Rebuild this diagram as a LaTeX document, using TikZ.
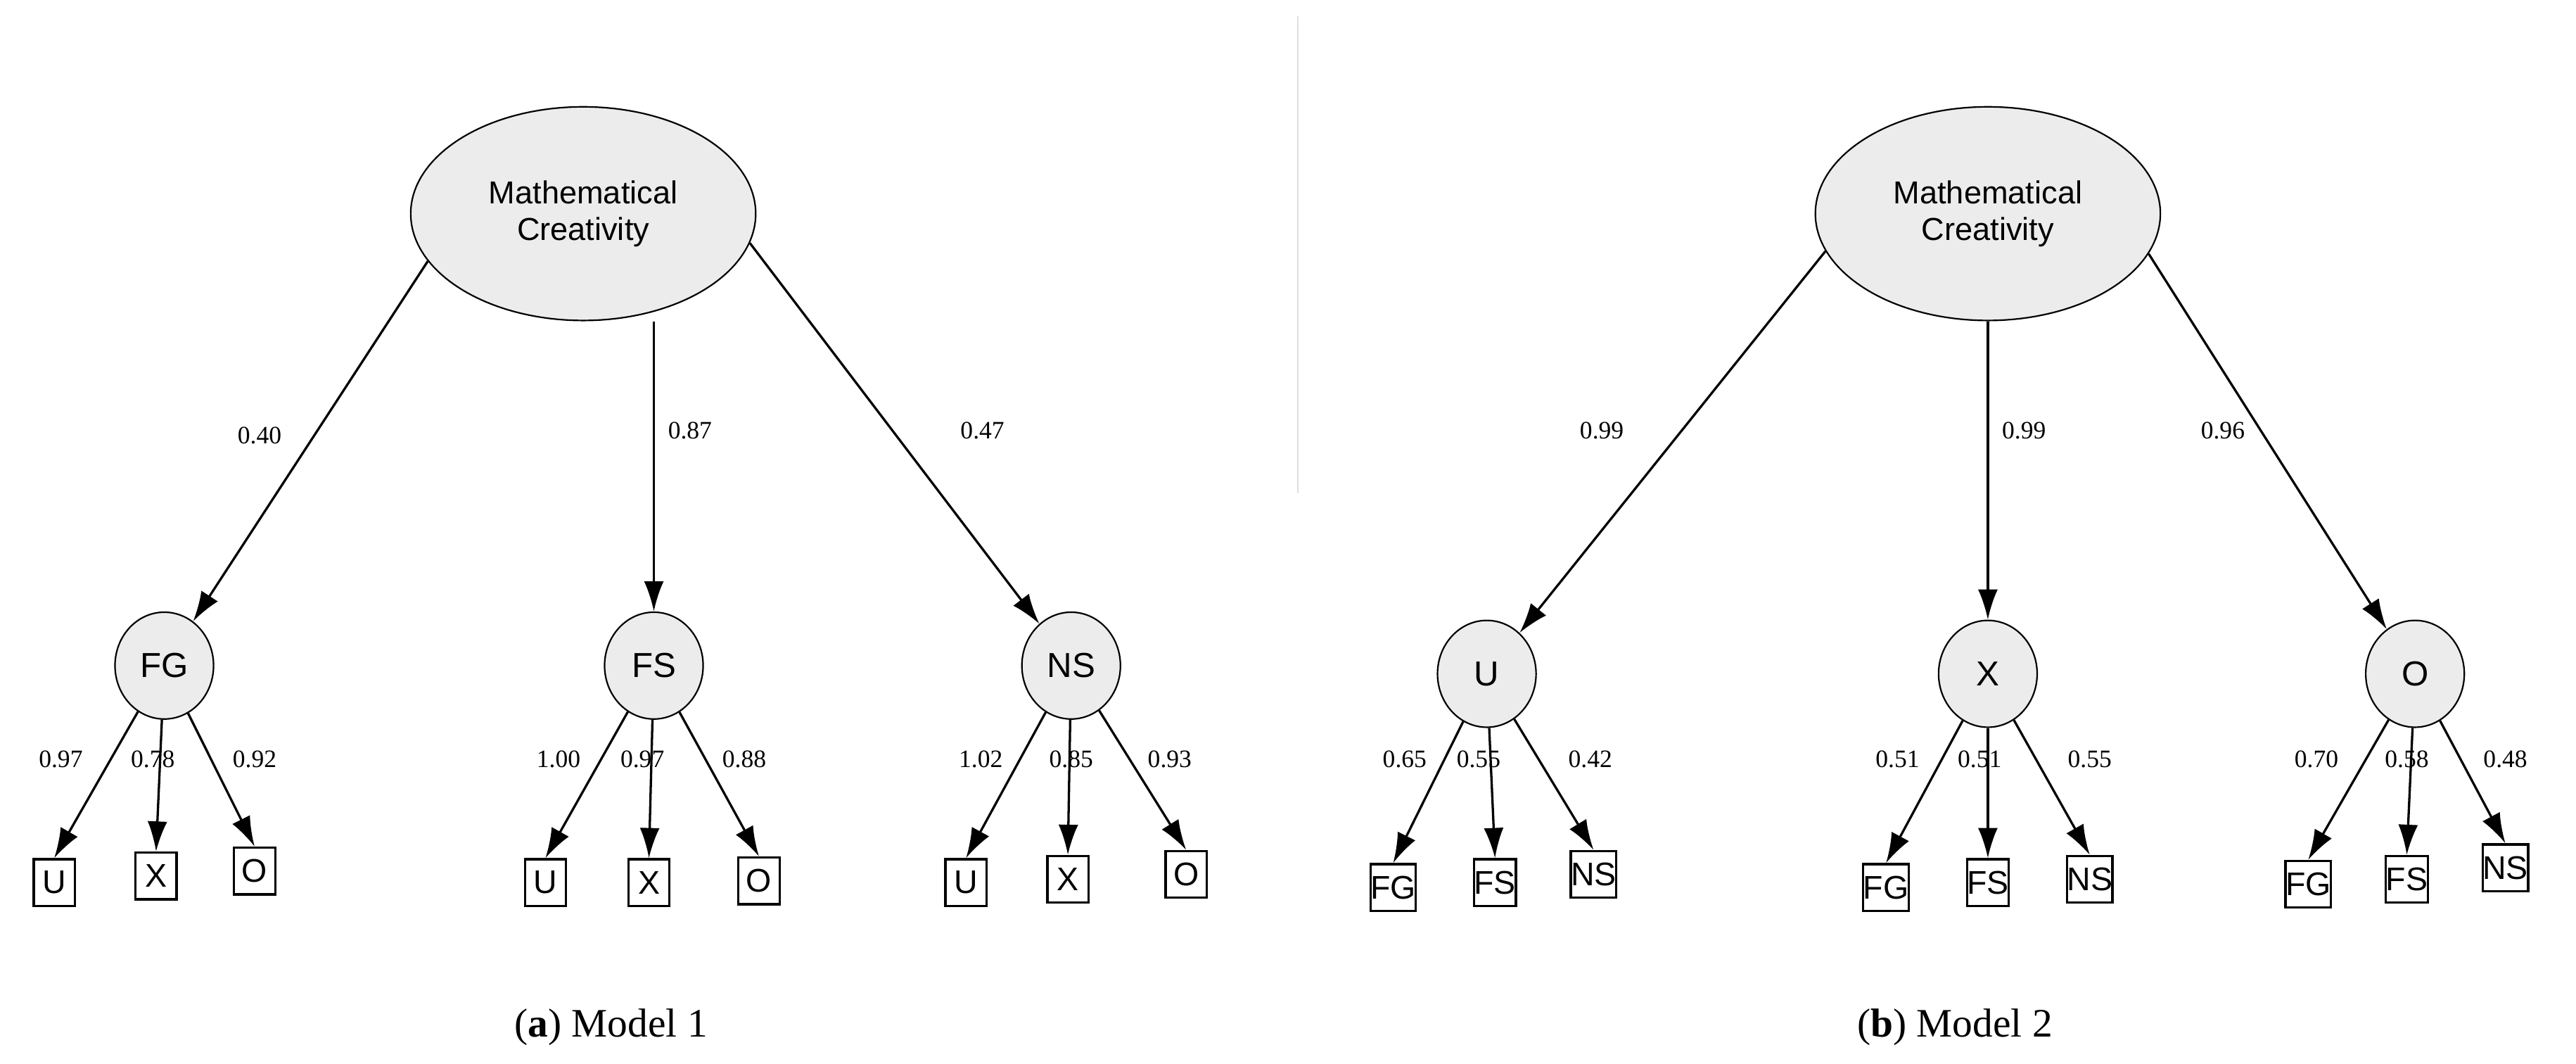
\documentclass[tikz,border=0pt]{standalone}
\usepackage{fontspec}
\setmainfont{Liberation Serif}
\newfontfamily\diagfont{Liberation Sans}
\usetikzlibrary{arrows.meta,shapes.geometric}
\tikzset{
	latent/.style={ellipse,draw,thick,fill=gray!15,font=\diagfont\fontsize{16.5}{19}\selectfont,align=center,inner sep=0pt},
	factor/.style={ellipse,draw,thick,fill=gray!15,minimum width=18mm,minimum height=19.5mm,inner sep=0pt,font=\diagfont\fontsize{18}{20}\selectfont},
	item/.style={rectangle,draw,very thick,minimum width=7.5mm,minimum height=8.5mm,inner sep=0pt,font=\diagfont\fontsize{17}{19}\selectfont},
	load/.style={font=\fontsize{13}{15}\selectfont},
	link/.style={very thick,-{Latex[length=5.5mm,width=3.6mm]}},
	caption/.style={font=\fontsize{21}{24}\selectfont}
}
\begin{document}
\begin{tikzpicture}[x=0.3mm,y=-0.3mm]
	\useasboundingbox (0,0) rectangle (1568,647);
	\draw[gray!25] (790,10)--(790,300);
	
	% Model 1
	\node[latent,minimum width=63mm,minimum height=39mm] (mcA) at (355,130) {Mathematical\\Creativity};
	\node[factor] (fgA) at (100,405) {FG};
	\node[factor] (fsA) at (398,405) {FS};
	\node[factor] (nsA) at (652,405) {NS};
	
	\draw[link] (mcA.197) -- (fgA);
	\draw[link] (fsA |- mcA.south) -- (fsA);
	\draw[link] (mcA.350) -- (nsA);
	\node[load] (lfgA) at (158,265) {0.40};
	\node[load] (lfsA) at (420,262) {0.87};
	\node[load] (lnsA) at (598,262) {0.47};
	
	\node[item] (uA1) at (33,537) {U};
	\node[item] (xA1) at (95,533) {X};
	\node[item] (oA1) at (155,530) {O};
	\node[item] (uA2) at (332,537) {U};
	\node[item] (xA2) at (395,537) {X};
	\node[item] (oA2) at (462,536) {O};
	\node[item] (uA3) at (588,537) {U};
	\node[item] (xA3) at (650,535) {X};
	\node[item] (oA3) at (722,532) {O};
	
	\draw[link] (fgA) -- (uA1.north);
	\draw[link] (fgA) -- (xA1.north);
	\draw[link] (fgA) -- (oA1.north);
	\draw[link] (fsA) -- (uA2.north);
	\draw[link] (fsA) -- (xA2.north);
	\draw[link] (fsA) -- (oA2.north);
	\draw[link] (nsA) -- (uA3.north);
	\draw[link] (nsA) -- (xA3.north);
	\draw[link] (nsA) -- (oA3.north);
	
	\node[load] (l11) at (37,462) {0.97};
	\node[load] (l12) at (93,462) {0.78};
	\node[load] (l13) at (155,462) {0.92};
	\node[load] (l21) at (340,462) {1.00};
	\node[load] (l22) at (391,462) {0.97};
	\node[load] (l23) at (453,462) {0.88};
	\node[load] (l31) at (597,462) {1.02};
	\node[load] (l32) at (652,462) {0.85};
	\node[load] (l33) at (712,462) {0.93};
	
	\node[caption] (capA) at (372,625) {(\textbf{a}) Model 1};
	
	% Model 2
	\node[latent,minimum width=63mm,minimum height=39mm] (mcB) at (1210,130) {Mathematical\\Creativity};
	\node[factor] (uB) at (905,410) {U};
	\node[factor] (xB) at (1210,410) {X};
	\node[factor] (oB) at (1470,410) {O};
	
	\draw[link] (mcB.193) -- (uB);
	\draw[link] (mcB.south) -- (xB);
	\draw[link] (mcB.346) -- (oB);
	\node[load] (luB) at (975,262) {0.99};
	\node[load] (lxB) at (1232,262) {0.99};
	\node[load] (loB) at (1353,262) {0.96};
	
	\node[item] (fgB1) at (848,540) {FG};
	\node[item] (fsB1) at (910,537) {FS};
	\node[item] (nsB1) at (970,532) {NS};
	\node[item] (fgB2) at (1148,540) {FG};
	\node[item] (fsB2) at (1210,537) {FS};
	\node[item] (nsB2) at (1272,535) {NS};
	\node[item] (fgB3) at (1405,538) {FG};
	\node[item] (fsB3) at (1465,535) {FS};
	\node[item] (nsB3) at (1525,528) {NS};
	
	\draw[link] (uB) -- (fgB1.north);
	\draw[link] (uB) -- (fsB1.north);
	\draw[link] (uB) -- (nsB1.north);
	\draw[link] (xB) -- (fgB2.north);
	\draw[link] (xB) -- (fsB2.north);
	\draw[link] (xB) -- (nsB2.north);
	\draw[link] (oB) -- (fgB3.north);
	\draw[link] (oB) -- (fsB3.north);
	\draw[link] (oB) -- (nsB3.north);
	
	\node[load] (m11) at (855,462) {0.65};
	\node[load] (m12) at (900,462) {0.55};
	\node[load] (m13) at (968,462) {0.42};
	\node[load] (m21) at (1155,462) {0.51};
	\node[load] (m22) at (1205,462) {0.51};
	\node[load] (m23) at (1272,462) {0.55};
	\node[load] (m31) at (1410,462) {0.70};
	\node[load] (m32) at (1465,462) {0.58};
	\node[load] (m33) at (1525,462) {0.48};
	
	\node[caption] (capB) at (1190,625) {(\textbf{b}) Model 2};
\end{tikzpicture}
\end{document}
